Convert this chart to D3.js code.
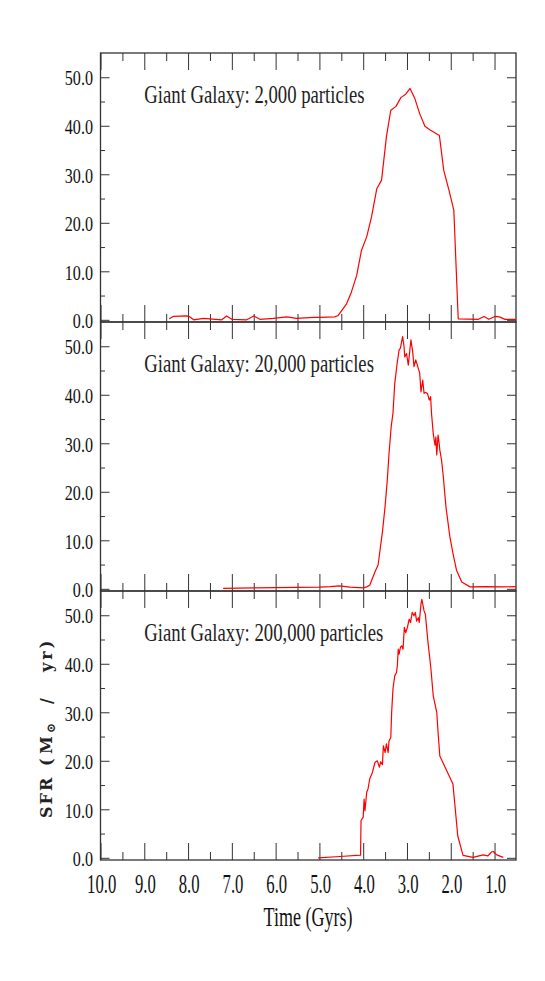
<!DOCTYPE html>
<html>
<head>
<meta charset="utf-8">
<script src="https://cdn.jsdelivr.net/npm/d3@7"></script>
<style>
  body { margin: 0; background: #fff; }
</style>
</head>
<body>
<div id="chart"></div>
<script>
// Star formation rate, three resolutions of the same giant galaxy
var titles = ["Giant Galaxy: 2,000 particles", "Giant Galaxy: 20,000 particles", "Giant Galaxy: 200,000 particles"];

var time2k = [8.43, 8.34, 8.03, 7.96, 7.87, 7.65, 7.23, 7.12, 7.00, 6.66, 6.50, 6.36, 6.05, 5.75, 5.52, 5.14, 4.99, 4.65, 4.57, 4.38,
  4.27, 4.15, 4.04, 3.92, 3.81, 3.69, 3.58, 3.47, 3.37, 3.25, 3.14, 3.03, 2.93, 2.82, 2.71, 2.59, 2.48, 2.26, 2.16, 2.04,
  1.93, 1.83, 1.37, 1.24, 1.13, 0.99, 0.89, 0.76, 0.51];
var sfr2k = [0.2, 0.7, 0.8, 0.6, 0.0, 0.3, 0.0, 0.8, 0.1, 0.0, 0.8, 0.1, 0.3, 0.6, 0.3, 0.5, 0.5, 0.6, 0.9, 3.3,
  5.7, 9.1, 14.3, 17.1, 21.2, 27.0, 28.8, 37.7, 43.2, 44.0, 45.8, 46.5, 47.7, 45.6, 42.5, 39.9, 39.2, 38.0, 30.8, 26.7,
  22.6, 0.2, 0.1, 0.7, 0.1, 0.7, 0.6, 0.1, 0.1];

var time20k = [7.20, 6.50, 6.00, 5.50, 5.00, 4.75, 4.55, 4.30, 4.00, 3.92, 3.85, 3.73, 3.66, 3.56, 3.50, 3.45, 3.41, 3.36, 3.32, 3.28,
  3.22, 3.18, 3.15, 3.10, 3.07, 3.05, 3.01, 2.97, 2.93, 2.91, 2.87, 2.84, 2.80, 2.74, 2.71, 2.68, 2.64, 2.61, 2.57, 2.53,
  2.49, 2.46, 2.44, 2.40, 2.36, 2.34, 2.32, 2.29, 2.26, 2.25, 2.21, 2.17, 2.11, 2.02, 1.95, 1.87, 1.75, 1.56, 1.20, 0.80, 0.51];
var sfr20k = [0.1, 0.2, 0.25, 0.3, 0.35, 0.45, 0.6, 0.35, 0.2, 0.4, 0.75, 3.5, 4.9, 11.8, 17.0, 22.4, 27.9, 33.5, 36.2, 42.3,
  46.8, 49.2, 49.6, 52.0, 50.2, 47.8, 48.5, 46.1, 49.6, 51.3, 48.9, 45.8, 47.2, 45.4, 44.5, 40.6, 43.0, 40.3, 40.5, 40.2,
  38.9, 39.6, 36.2, 32.0, 29.6, 31.3, 27.6, 31.7, 29.6, 28.6, 26.5, 23.1, 16.9, 10.7, 7.3, 3.9, 1.4, 0.4, 0.45, 0.4, 0.45];

var time200k = [5.03, 4.53, 4.06, 4.05, 4.00, 3.98, 3.96, 3.92, 3.89, 3.85, 3.79, 3.73, 3.68, 3.63, 3.60, 3.56, 3.54, 3.50, 3.47, 3.43,
  3.41, 3.37, 3.35, 3.32, 3.28, 3.24, 3.22, 3.20, 3.18, 3.15, 3.12, 3.09, 3.06, 3.03, 2.99, 2.95, 2.92, 2.88, 2.84, 2.81,
  2.78, 2.74, 2.72, 2.68, 2.66, 2.61, 2.58, 2.52, 2.46, 2.40, 2.32, 2.29, 2.25, 1.95, 1.84, 1.72, 1.49, 1.26, 1.15, 1.07,
  1.03, 0.95, 0.80];
var sfr200k = [0.0, 0.27, 0.55, 7.7, 8.4, 12.1, 9.7, 13.5, 14.2, 16.3, 17.6, 19.7, 20.0, 18.7, 19.8, 19.2, 23.1, 21.7, 23.5, 21.7,
  24.1, 24.8, 30.0, 34.8, 37.5, 38.2, 39.6, 43.0, 42.0, 43.4, 43.7, 43.0, 47.5, 46.4, 47.5, 49.2, 48.5, 50.6, 49.9, 50.6,
  48.8, 49.5, 48.5, 52.3, 53.3, 50.9, 50.2, 44.4, 39.6, 33.4, 30.0, 25.9, 21.0, 15.2, 4.5, 0.5, 0.1, 0.6, 0.4, 1.2,
  1.3, 0.6, 0.1];

var series = [[time2k, sfr2k], [time20k, sfr20k], [time200k, sfr200k]];

var xMajor = [10, 9, 8, 7, 6, 5, 4, 3, 2, 1];
var xMinor = [9.5, 8.5, 7.5, 6.5, 5.5, 4.5, 3.5, 2.5, 1.5];
var yMajor = [0, 10, 20, 30, 40, 50];
var yMinor = [5, 15, 25, 35, 45];

var svgWidth = 545;
var svgHeight = 981;
var left = 100.5, right = 516;
var panelTop = 53, panelH = 269;
var serif = "'Liberation Serif', 'Times New Roman', serif";

var svg = d3.select("#chart")
  .append("svg")
  .attr("width", svgWidth)
  .attr("height", svgHeight)
  .style("background", "#fff");

var x = d3.scaleLinear().domain([10, 0.51]).range([left, right]);

var line = d3.line()
  .x(d => x(d[0]))
  .y(d => d.y);

function ticks(g, axis) {
  g.call(axis);
  g.select(".domain").remove();
  g.selectAll("line").attr("stroke", "#333").attr("stroke-width", 1);
}

series.forEach(function(s, i) {
  var top = panelTop + i * panelH;
  var bottom = top + panelH;
  var y = d3.scaleLinear().domain([-0.45, 55]).range([bottom, top]);
  var g = svg.append("g");

  // ticks on all four sides, pointing inward
  ticks(g.append("g").attr("transform", `translate(0,${bottom})`), d3.axisBottom(x).tickValues(xMajor).tickSize(-17).tickFormat(""));
  ticks(g.append("g").attr("transform", `translate(0,${bottom})`), d3.axisBottom(x).tickValues(xMinor).tickSize(-8).tickFormat(""));
  ticks(g.append("g").attr("transform", `translate(0,${top})`), d3.axisTop(x).tickValues(xMajor).tickSize(-17).tickFormat(""));
  ticks(g.append("g").attr("transform", `translate(0,${top})`), d3.axisTop(x).tickValues(xMinor).tickSize(-8).tickFormat(""));
  ticks(g.append("g").attr("transform", `translate(${left},0)`), d3.axisLeft(y).tickValues(yMajor).tickSize(-9).tickFormat(""));
  ticks(g.append("g").attr("transform", `translate(${left},0)`), d3.axisLeft(y).tickValues(yMinor).tickSize(-4.5).tickFormat(""));
  ticks(g.append("g").attr("transform", `translate(${right},0)`), d3.axisRight(y).tickValues(yMajor).tickSize(-9).tickFormat(""));
  ticks(g.append("g").attr("transform", `translate(${right},0)`), d3.axisRight(y).tickValues(yMinor).tickSize(-4.5).tickFormat(""));

  // y tick labels
  var yl = g.append("g").attr("transform", `translate(${left},0)`)
    .call(d3.axisLeft(y).tickValues(yMajor).tickSize(0).tickFormat(d3.format(".1f")));
  yl.select(".domain").remove();
  yl.selectAll("text")
    .attr("x", -10)
    .attr("dy", "0.36em")
    .attr("transform", "scale(0.75,1)")
    .style("font-family", serif)
    .style("font-size", "21.5px")
    .attr("fill", "#111");

  // frame
  g.append("rect")
    .attr("x", left).attr("y", top)
    .attr("width", right - left).attr("height", panelH)
    .attr("fill", "none").attr("stroke", "#333").attr("stroke-width", 1.3);

  // title
  g.append("text")
    .attr("transform", `translate(144.3,${top + 49.5}) scale(0.72,1)`)
    .style("font-family", serif)
    .style("font-size", "26px")
    .attr("fill", "#222")
    .text(titles[i]);

  // SFR curve
  var pts = s[0].map(function(t, j) { var p = [t, s[1][j]]; p.y = y(s[1][j]); return p; });
  g.append("path")
    .datum(pts)
    .attr("fill", "none")
    .attr("stroke", "#ff0000")
    .attr("stroke-width", 1.2)
    .attr("stroke-linejoin", "round")
    .attr("d", line);

  // x tick labels only on the last panel
  if (i === series.length - 1) {
    var xl = g.append("g").attr("transform", `translate(0,${bottom})`)
      .call(d3.axisBottom(x).tickValues(xMajor).tickSize(0).tickFormat(d3.format(".1f")));
    xl.select(".domain").remove();
    xl.selectAll("text")
      .attr("y", 33)
      .attr("dy", 0)
      .attr("x", 1)
      .attr("transform", "scale(0.63,1)")
      .style("font-family", serif)
      .style("font-size", "26.5px")
      .attr("fill", "#111");
  }
});

// X axis label
svg.append("text")
  .attr("transform", "translate(308,925.7) scale(0.68,1)")
  .attr("text-anchor", "middle")
  .style("font-family", serif)
  .style("font-size", "26.5px")
  .attr("fill", "#111")
  .text("Time (Gyrs)");

// Y axis label
var yt = svg.append("text")
  .attr("transform", "translate(52,818) rotate(-90)")
  .style("font-family", "'DejaVu Serif', serif")
  .style("font-weight", "bold")
  .style("font-size", "16px")
  .attr("fill", "#222");
yt.append("tspan").attr("x", 0).style("letter-spacing", "2px").text("SFR");
yt.append("tspan").attr("x", 52).text("(");
yt.append("tspan").attr("x", 64).text("M");
yt.append("tspan").attr("x", 85).attr("dy", 3).style("font-size", "12px").text("⊙");
yt.append("tspan").attr("x", 114).attr("dy", -3).text("/");
yt.append("tspan").attr("x", 146).style("letter-spacing", "3px").text("yr)");
</script>
</body>
</html>
